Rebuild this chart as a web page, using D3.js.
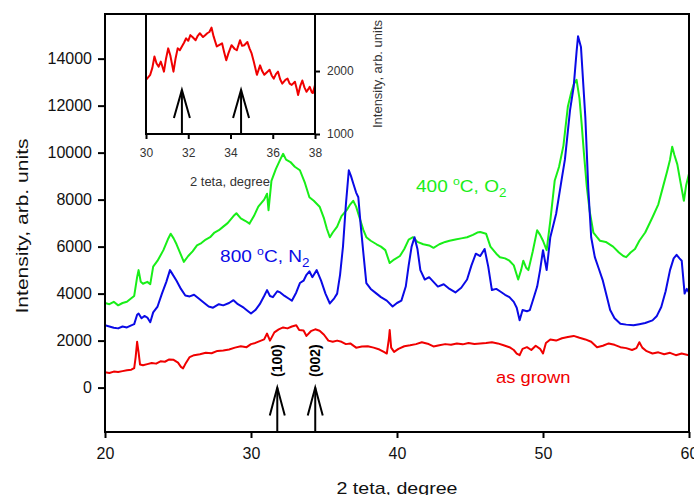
<!DOCTYPE html>
<html>
<head>
<meta charset="utf-8">
<script src="https://cdn.jsdelivr.net/npm/d3@7"></script>
<style>
  body { margin: 0; background: #fff; }
  svg { display: block; font-family: "Liberation Sans", Arial, sans-serif; }
</style>
</head>
<body>
<div id="chart"></div>
<script>
// ---- data: [2 theta (deg), intensity] ----
const asGrown = [
  [20.0,650],[20.3,620],[20.6,680],[20.9,660],[21.2,700],[21.5,740],[21.8,760],[22.0,830],[22.1,1300],[22.2,1950],
  [22.3,1500],[22.4,980],[22.6,950],[22.9,1000],[23.2,1050],[23.5,1020],[23.8,1120],[24.1,1100],[24.4,1200],[24.7,1180],
  [25.0,1060],[25.2,880],[25.35,820],[25.5,1000],[25.8,1300],[26.1,1380],[26.5,1420],[26.9,1480],[27.3,1460],[27.7,1560],
  [28.1,1580],[28.5,1620],[28.9,1700],[29.3,1760],[29.7,1720],[30.0,1850],[30.3,1900],[30.6,1980],[30.9,2050],[31.1,2300],
  [31.3,2000],[31.6,2350],[31.9,2480],[32.2,2560],[32.5,2520],[32.8,2600],[33.1,2650],[33.3,2450],[33.6,2430],[33.8,2200],
  [34.1,2400],[34.4,2480],[34.7,2420],[35.0,2250],[35.3,2000],[35.6,1950],[35.9,2000],[36.2,1950],[36.5,1850],[36.8,1880],
  [37.2,1700],[37.6,1750],[38.0,1760],[38.4,1700],[38.8,1620],[39.1,1520],[39.3,1450],[39.45,2100],[39.5,2450],[39.6,1700],
  [39.8,1520],[40.1,1650],[40.5,1760],[40.9,1800],[41.3,1850],[41.7,1930],[42.1,1870],[42.5,1750],[42.9,1800],[43.3,1850],
  [43.7,1820],[44.1,1880],[44.5,1840],[44.9,1900],[45.3,1860],[45.7,1880],[46.1,1900],[46.5,1930],[46.9,1880],[47.3,1800],
  [47.7,1720],[48.0,1600],[48.2,1450],[48.4,1380],[48.6,1650],[48.9,1720],[49.2,1600],[49.5,1780],[49.8,1650],[50.0,1450],
  [50.2,1900],[50.5,2050],[50.9,2000],[51.3,2100],[51.7,2150],[52.1,2200],[52.5,2120],[52.9,2050],[53.3,1950],[53.7,1720],
  [54.1,1780],[54.5,1880],[54.9,1820],[55.3,1720],[55.7,1680],[56.1,1600],[56.4,1680],[56.6,1930],[56.8,1700],[57.1,1550],
  [57.5,1450],[57.9,1500],[58.3,1420],[58.7,1480],[59.1,1380],[59.5,1450],[60.0,1380]
];

const n2_800 = [
  [20.0,2650],[20.3,2600],[20.6,2550],[20.9,2520],[21.2,2600],[21.5,2560],[21.8,2650],[22.0,2700],[22.2,3100],[22.3,3150],
  [22.5,2950],[22.7,3050],[22.9,2980],[23.1,2780],[23.3,3200],[23.6,3450],[23.9,4000],[24.2,4500],[24.45,5000],[24.6,4850],
  [24.9,4550],[25.2,4200],[25.5,3920],[25.8,3880],[26.1,3950],[26.4,3800],[26.8,3600],[27.1,3450],[27.4,3400],[27.8,3550],
  [28.1,3500],[28.5,3600],[28.8,3720],[29.1,3550],[29.5,3400],[29.8,3250],[30.0,3150],[30.3,3300],[30.6,3550],[30.9,3900],
  [31.1,4150],[31.3,3900],[31.5,3850],[31.8,4100],[32.0,4050],[32.3,3900],[32.6,3780],[32.8,3700],[33.1,4050],[33.35,4450],
  [33.6,4550],[33.8,4800],[34.0,4950],[34.2,4700],[34.5,5000],[34.8,4550],[35.1,4000],[35.4,3580],[35.7,3800],[35.9,4000],
  [36.1,4800],[36.3,6000],[36.5,7800],[36.7,9250],[36.85,9000],[37.0,8700],[37.2,8300],[37.35,8100],[37.5,7000],[37.7,5700],
  [37.9,4450],[38.2,4200],[38.6,4000],[38.9,3850],[39.3,3700],[39.7,3450],[40.0,3600],[40.3,3700],[40.6,4300],[40.8,5200],
  [41.0,6000],[41.2,6400],[41.4,5900],[41.6,5000],[41.9,4600],[42.2,4700],[42.5,4500],[42.8,4300],[43.2,4400],[43.6,4200],
  [44.0,4050],[44.4,4250],[44.8,4600],[45.1,5200],[45.4,5700],[45.7,5600],[46.0,5900],[46.25,5150],[46.5,4150],[46.8,4200],
  [47.05,4100],[47.4,3950],[47.7,3850],[48.0,3650],[48.2,3400],[48.4,2870],[48.6,3300],[48.9,3250],[49.1,3300],[49.4,3900],
  [49.6,4300],[49.8,5000],[50.0,5850],[50.25,5000],[50.5,6400],[50.9,7400],[51.3,8950],[51.5,9700],[51.85,11800],[52.1,12800],
  [52.3,14300],[52.4,14950],[52.6,14500],[52.9,11500],[53.1,8500],[53.3,6400],[53.55,5550],[53.8,5100],[54.1,4550],[54.4,3800],
  [54.6,3300],[54.9,2950],[55.3,2720],[55.7,2680],[56.2,2650],[56.6,2700],[57.0,2750],[57.5,2860],[57.8,3050],[58.1,3430],
  [58.4,4100],[58.7,5000],[58.95,5500],[59.15,5650],[59.35,5500],[59.5,5400],[59.7,4000],[59.85,4200],[60.0,4050]
];

const o2_400 = [
  [20.0,3600],[20.3,3550],[20.6,3650],[20.9,3500],[21.2,3600],[21.5,3650],[21.8,3800],[22.0,3900],[22.2,4700],[22.3,5000],
  [22.45,4500],[22.6,4420],[22.9,4500],[23.1,4400],[23.3,5150],[23.6,5400],[24.0,5850],[24.3,6300],[24.5,6550],[24.7,6350],
  [24.9,6100],[25.1,5800],[25.4,5350],[25.7,5600],[26.0,5800],[26.3,6050],[26.6,6150],[26.9,6300],[27.2,6400],[27.5,6600],
  [27.8,6700],[28.1,6850],[28.4,7000],[28.6,7150],[28.8,7300],[29.0,7420],[29.3,7200],[29.6,7100],[29.9,6980],[30.2,7300],
  [30.5,7700],[30.7,7850],[30.9,8000],[31.1,8250],[31.2,7550],[31.4,8800],[31.7,9300],[32.0,9700],[32.2,9950],[32.4,9700],
  [32.7,9600],[33.0,9400],[33.35,9250],[33.7,8700],[34.0,8100],[34.3,7950],[34.7,7700],[35.0,7200],[35.2,6750],[35.4,6400],
  [35.6,6600],[35.9,6850],[36.2,7300],[36.55,7550],[36.8,7800],[37.0,7950],[37.2,7700],[37.5,7100],[37.7,6700],[37.9,6400],
  [38.2,6250],[38.6,6100],[38.9,6000],[39.2,5850],[39.5,5300],[39.8,5450],[40.2,5600],[40.5,5900],[40.8,6300],[41.1,6400],
  [41.4,6200],[41.8,6100],[42.2,6050],[42.5,5950],[42.9,6100],[43.3,6200],[43.6,6250],[44.0,6300],[44.4,6350],[44.8,6400],
  [45.2,6500],[45.5,6600],[45.7,6620],[46.1,6550],[46.4,6000],[46.8,5700],[47.05,5550],[47.4,5500],[47.7,5400],[48.0,5200],
  [48.3,4600],[48.5,5000],[48.65,5400],[48.85,5100],[49.0,5000],[49.3,5800],[49.6,6700],[49.8,6500],[50.0,6250],[50.25,5850],
  [50.5,7100],[50.8,8800],[51.1,9400],[51.4,10300],[51.7,11950],[51.95,12600],[52.1,12900],[52.3,13100],[52.5,12300],[52.65,11200],
  [52.8,10000],[53.0,8550],[53.2,7500],[53.45,6600],[53.7,6400],[53.9,6250],[54.3,6200],[54.8,6000],[55.2,5750],[55.5,5600],
  [55.7,5550],[56.0,5750],[56.3,5900],[56.6,6250],[57.0,6600],[57.5,7250],[57.9,7800],[58.2,8500],[58.5,9200],[58.7,9700],
  [58.85,10250],[59.0,9900],[59.2,9500],[59.4,8800],[59.65,7950],[59.8,8600],[60.0,9100]
];

// inset: as grown, 30-38 deg
const insetRed = [
  [30.0,1860],[30.1,1900],[30.2,1940],[30.3,2050],[30.4,2230],[30.5,2120],[30.6,2070],[30.7,2150],[30.75,2100],[30.85,1990],
  [30.95,2200],[31.05,2360],[31.15,2250],[31.3,1990],[31.4,2200],[31.5,2360],[31.6,2330],[31.7,2390],[31.8,2450],[31.9,2520],
  [32.0,2480],[32.1,2570],[32.2,2540],[32.35,2490],[32.45,2560],[32.55,2600],[32.7,2540],[32.8,2570],[32.9,2600],[33.0,2620],
  [33.1,2690],[33.2,2550],[33.35,2390],[33.5,2420],[33.6,2440],[33.7,2300],[33.8,2170],[33.9,2280],[34.05,2410],[34.2,2350],
  [34.3,2330],[34.45,2490],[34.55,2400],[34.65,2410],[34.8,2460],[34.9,2360],[35.0,2280],[35.1,2150],[35.25,1940],[35.4,2090],
  [35.5,2000],[35.6,1940],[35.75,1990],[35.85,2020],[35.95,1930],[36.05,1880],[36.15,1950],[36.25,1990],[36.35,1870],[36.45,1800],
  [36.6,1860],[36.7,1880],[36.8,1800],[36.9,1780],[37.05,1830],[37.15,1700],[37.2,1620],[37.3,1760],[37.4,1850],[37.5,1740],
  [37.6,1670],[37.7,1720],[37.75,1750],[37.85,1660],[37.9,1650],[38.0,1780]
];

const xTicks = [20, 30, 40, 50, 60];
const yTicks = [0, 2000, 4000, 6000, 8000, 10000, 12000, 14000];
const insetXTicks = [30, 32, 34, 36, 38];
const insetYTicks = [1000, 2000];
const peakPos = [31.8, 34.4];
const peakLabels = ["(100)", "(002)"];
const insetPeakPos = [31.7, 34.5];

const W = 694, H = 495;
const svg = d3.select("#chart").append("svg").attr("width", W).attr("height", H);

const x = d3.scaleLinear().domain([20, 60]).range([105, 689]);
const y = d3.scaleLinear().domain([-1890, 15900]).range([432, 14]);

svg.append("clipPath").attr("id", "plotclip")
  .append("rect").attr("x", 105).attr("y", 14).attr("width", 584).attr("height", 418);

const line = d3.line().x(d => x(d[0])).y(d => y(d[1]));
const series = [
  {data: o2_400, color: "#18ee18"},
  {data: n2_800, color: "#0a0ae6"},
  {data: asGrown, color: "#f00000"}
];
svg.append("g").attr("clip-path", "url(#plotclip)")
  .selectAll("path").data(series).join("path")
  .attr("d", d => line(d.data))
  .attr("fill", "none")
  .attr("stroke", d => d.color)
  .attr("stroke-width", 2)
  .attr("stroke-linejoin", "round");

// axes
const ax = svg.append("g").attr("transform", `translate(0,${y.range()[0]})`)
  .call(d3.axisBottom(x).tickValues(xTicks).tickSize(6).tickPadding(10).tickFormat(d3.format("d")));
const ay = svg.append("g").attr("transform", `translate(${x.range()[0]},0)`)
  .call(d3.axisLeft(y).tickValues(yTicks).tickSize(7).tickPadding(6).tickFormat(d3.format("d")));
[ax, ay].forEach(g => {
  g.select(".domain").remove();
  g.selectAll("line").attr("stroke", "#000").attr("stroke-width", 2);
  g.selectAll("text").attr("font-size", 16).attr("fill", "#111")
   .attr("font-family", "Liberation Sans, Arial, sans-serif");
});

svg.append("rect").attr("x", 105).attr("y", 14).attr("width", 584).attr("height", 418)
  .attr("fill", "none").attr("stroke", "#000").attr("stroke-width", 2);

svg.append("text").attr("x", 397).attr("y", 494).attr("text-anchor", "middle")
  .attr("font-size", 17).attr("fill", "#111")
  .attr("textLength", 121).attr("lengthAdjust", "spacingAndGlyphs")
  .text("2 teta, degree");
svg.append("text").attr("transform", "translate(28,226) rotate(-90)").attr("text-anchor", "middle")
  .attr("font-size", 17).attr("fill", "#111")
  .attr("textLength", 175).attr("lengthAdjust", "spacingAndGlyphs")
  .text("Intensity, arb. units");

// peak arrows in main plot
const arrows = svg.append("g").attr("stroke", "#000").attr("stroke-width", 2).attr("fill", "none");
peakPos.forEach((p, i) => {
  const px = x(p), tip = y(0);
  arrows.append("line").attr("x1", px).attr("x2", px).attr("y1", y.range()[0]).attr("y2", tip);
  arrows.append("path").attr("d", `M${px - 7.5},${tip + 28}L${px},${tip}L${px + 7.5},${tip + 28}`);
  svg.append("text").attr("transform", `translate(${px + 5},${tip - 27}) rotate(-90)`)
    .attr("text-anchor", "middle").attr("font-size", 14).attr("font-weight", "bold")
    .text(peakLabels[i]);
});

// series labels
function label(txt, sub, color, px, py, sx) {
  const t = svg.append("text").attr("transform", `translate(${px},${py}) scale(${sx},1)`)
    .attr("font-size", 17).attr("fill", color);
  if (sub !== null) {
    t.append("tspan").text(txt[0]);
    t.append("tspan").attr("font-size", 11).attr("dy", -7).text("o");
    t.append("tspan").attr("dy", 7).text(txt[1]);
    t.append("tspan").attr("font-size", 12).attr("dy", 5).text(sub);
  } else {
    t.text(txt);
  }
}
label(["400 ", "C, O"], "2", "#18ee18", x(41.3), y(8325), 1.12);
label(["800 ", "C, N"], "2", "#0a0ae6", x(27.88), y(5346), 1.12);
label("as grown", null, "#f00000", x(46.78), y(200), 1.08);

// ---- inset ----
const xi = d3.scaleLinear().domain([30, 38]).range([146, 315]);
const yi = d3.scaleLinear().domain([1000, 2890]).range([134, 15]);
const inset = svg.append("g");
inset.append("rect").attr("x", 146).attr("y", 15).attr("width", 169).attr("height", 119).attr("fill", "#fff");
inset.append("path").datum(insetRed)
  .attr("d", d3.line().x(d => xi(d[0])).y(d => yi(d[1])))
  .attr("fill", "none").attr("stroke", "#f00000").attr("stroke-width", 2).attr("stroke-linejoin", "round");

const ix = inset.append("g").attr("transform", `translate(0,${yi.range()[0]})`)
  .call(d3.axisBottom(xi).tickValues(insetXTicks).tickSize(5).tickPadding(9));
const iy = inset.append("g").attr("transform", `translate(${xi.range()[1]},0)`)
  .call(d3.axisRight(yi).tickValues(insetYTicks).tickSize(5).tickPadding(7).tickFormat(d3.format("d")));
[ix, iy].forEach(g => {
  g.select(".domain").remove();
  g.selectAll("line").attr("stroke", "#000").attr("stroke-width", 2);
  g.selectAll("text").attr("font-size", 12).attr("fill", "#333")
   .attr("font-family", "Liberation Sans, Arial, sans-serif");
});
inset.append("path").attr("d", `M146,14V134H315V14`).attr("fill", "none").attr("stroke", "#000").attr("stroke-width", 2);

insetPeakPos.forEach(p => {
  const px = xi(p), tip = yi(1700);
  inset.append("line").attr("x1", px).attr("x2", px).attr("y1", yi.range()[0]).attr("y2", tip)
    .attr("stroke", "#000").attr("stroke-width", 2);
  inset.append("path").attr("d", `M${px - 8},${tip + 28}L${px},${tip}L${px + 8},${tip + 28}`)
    .attr("fill", "none").attr("stroke", "#000").attr("stroke-width", 2);
});

inset.append("text").attr("x", 230).attr("y", 186).attr("text-anchor", "middle")
  .attr("font-size", 12).attr("fill", "#333")
  .attr("textLength", 80).attr("lengthAdjust", "spacingAndGlyphs")
  .text("2 teta, degree");
inset.append("text").attr("transform", "translate(382,74) rotate(-90)").attr("text-anchor", "middle")
  .attr("font-size", 12).attr("fill", "#333")
  .attr("textLength", 108).attr("lengthAdjust", "spacingAndGlyphs")
  .text("Intensity, arb. units");
</script>
</body>
</html>
